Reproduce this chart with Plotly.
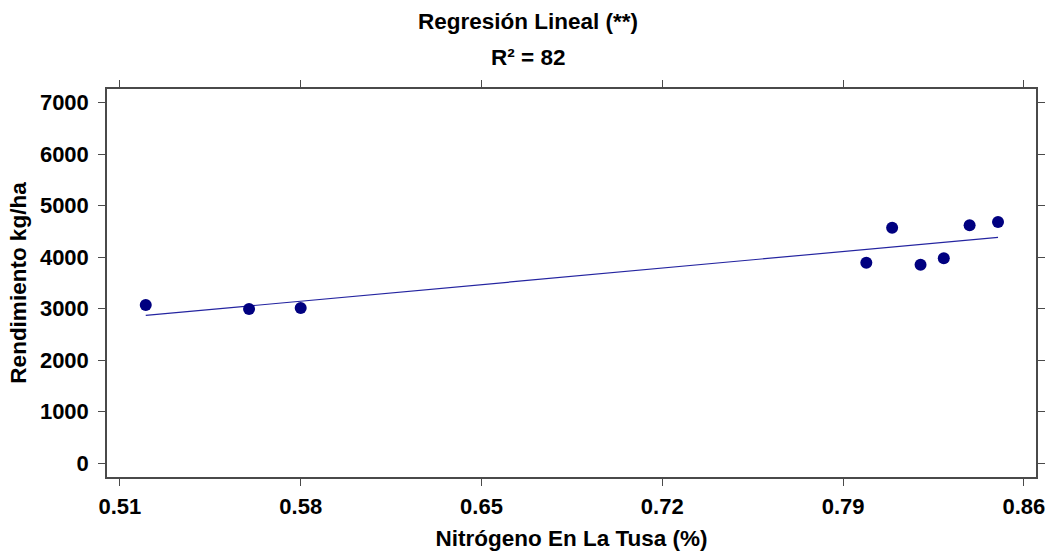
import numpy as np
import plotly.graph_objects as go

# Data
nitrogeno = [0.520, 0.560, 0.580, 0.799, 0.809, 0.820, 0.829, 0.839, 0.850]
rendimiento = [3070, 2990, 3010, 3890, 4570, 3850, 3980, 4620, 4680]

x_ticks = [0.51, 0.58, 0.65, 0.72, 0.79, 0.86]
x_tick_labels = ["0.51", "0.58", "0.65", "0.72", "0.79", "0.86"]
y_ticks = [0, 1000, 2000, 3000, 4000, 5000, 6000, 7000]
y_tick_labels = [str(v) for v in y_ticks]

title_line1 = "Regresión Lineal (**)"
title_line2 = "R² = 82"
x_title = "Nitrógeno En La Tusa (%)"
y_title = "Rendimiento kg/ha"

# Linear regression fit
slope, intercept = np.polyfit(nitrogeno, rendimiento, 1)
fit_x = [min(nitrogeno), max(nitrogeno)]
fit_y = [slope * v + intercept for v in fit_x]

FONT = "Liberation Sans, Arial, sans-serif"

fig = go.Figure()
fig.add_trace(go.Scatter(
    x=fit_x, y=fit_y, mode="lines",
    line=dict(color="#2424a0", width=1.2),
    showlegend=False, hoverinfo="skip",
))
fig.add_trace(go.Scatter(
    x=nitrogeno, y=rendimiento, mode="markers",
    marker=dict(color="#000080", size=12, line=dict(width=0)),
    showlegend=False,
))

W, H = 1052, 555
ml, mr, mt, mb = 107, 16, 89, 78

axis_common = dict(
    showgrid=False, zeroline=False,
    showline=True, linecolor="#4a4a4a", linewidth=1.5,
    mirror="ticks", ticks="outside", ticklen=7, tickwidth=1.2,
    tickcolor="#4a4a4a",
    tickfont=dict(family=FONT, size=22, color="black", weight="bold"),
)

fig.update_layout(
    width=W, height=H,
    margin=dict(l=ml, r=mr, t=mt, b=mb, autoexpand=False),
    paper_bgcolor="white", plot_bgcolor="white",
    font=dict(family=FONT, color="black"),
    xaxis=dict(
        range=[0.505, 0.8647],
        tickvals=x_ticks, ticktext=x_tick_labels,
        ticklabelstandoff=2,
        title=dict(text=x_title, standoff=12,
                   font=dict(family=FONT, size=22.5, color="black", weight="bold")),
        **axis_common,
    ),
    yaxis=dict(
        range=[-272, 7266],
        tickvals=y_ticks, ticktext=y_tick_labels,
        ticklabelstandoff=5,
        title=dict(text=y_title, standoff=7,
                   font=dict(family=FONT, size=22.5, color="black", weight="bold")),
        **axis_common,
    ),
    annotations=[
        dict(text=title_line1, xref="paper", yref="paper",
             x=(528 - ml) / (W - ml - mr), y=1, yanchor="middle",
             yshift=mt - 21, showarrow=False,
             font=dict(family=FONT, size=22.5, color="black", weight="bold")),
        dict(text=title_line2, xref="paper", yref="paper",
             x=(528 - ml) / (W - ml - mr), y=1, yanchor="middle",
             yshift=mt - 57, showarrow=False,
             font=dict(family=FONT, size=22.5, color="black", weight="bold")),
    ],
)

fig.write_html("out.html", config={"displayModeBar": False},
               post_script="document.body.style.margin='0px';")
